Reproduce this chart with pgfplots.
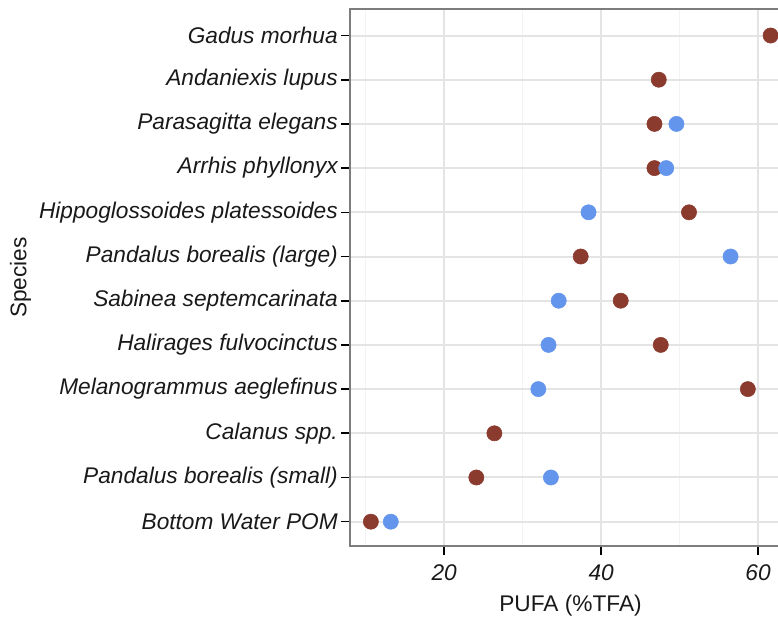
\documentclass[border=0pt]{standalone}
\usepackage{fontspec}
\setmainfont{Liberation Sans}
\usepackage{pgfplots}
\pgfplotsset{compat=1.18}

\definecolor{ptsred}{RGB}{139,58,46}
\definecolor{ptsblue}{RGB}{100,149,237}
\definecolor{gridmaj}{RGB}{228,228,228}
\definecolor{gridmin}{RGB}{243,243,243}
\definecolor{frame}{RGB}{125,125,125}

\begin{document}
\begin{tikzpicture}
\useasboundingbox (0,0) rectangle (583.5pt,463.5pt);
\begin{axis}[
  at={(262.5pt,54pt)}, anchor=south west,
  scale only axis, width=330.75pt, height=402.75pt,
  xmin=8.0, xmax=64.2, ymin=0.45, ymax=12.6,
  xtick={20,40,60}, minor xtick={10,30,50},
  ytick={1,...,12},
  yticklabels={Bottom Water POM, Pandalus borealis (small), Calanus spp.,
    Melanogrammus aeglefinus, Halirages fulvocinctus, Sabinea septemcarinata,
    Pandalus borealis (large), Hippoglossoides platessoides, Arrhis phyllonyx,
    Parasagitta elegans, Andaniexis lupus, Gadus morhua},
  xtick pos=bottom, ytick pos=left,
  tick align=outside,
  major tick length=6.5pt, minor tick length=0pt,
  tick style={black, line width=1.2pt},
  xmajorgrids, xminorgrids, ymajorgrids,
  major grid style={gridmaj, line width=1.5pt},
  minor grid style={gridmin, line width=0.9pt},
  axis line style={frame, line width=1pt},
  /pgf/number format/assume math mode=true,
  ticklabel style={font=\fontsize{17}{20}\selectfont\itshape, text=black!90},
  yticklabel style={inner sep=2.5pt},
  xticklabel style={inner sep=3pt, yshift=-4.5pt},
  xlabel={PUFA (\%TFA)}, ylabel={Species},
  label style={font=\fontsize{17}{20}\selectfont, text=black!90},
  xlabel style={yshift=-4pt},
  ylabel style={yshift=0pt},
  clip=false,
]
% first group of samples
\addplot[only marks, mark=*, mark size=5.7pt, color=ptsred] coordinates {
  (61.6,12) (47.35,11) (46.8,10) (46.8,9) (51.2,8) (37.4,7)
  (42.5,6) (47.6,5) (58.7,4) (26.4,3) (24.1,2) (10.66,1)
};
% second group of samples
\addplot[only marks, mark=*, mark size=5.7pt, color=ptsblue] coordinates {
  (49.6,10) (48.3,9) (38.4,8) (56.5,7) (34.6,6) (33.3,5)
  (32.0,4) (33.6,2) (13.2,1)
};
\end{axis}
\end{tikzpicture}
\end{document}
